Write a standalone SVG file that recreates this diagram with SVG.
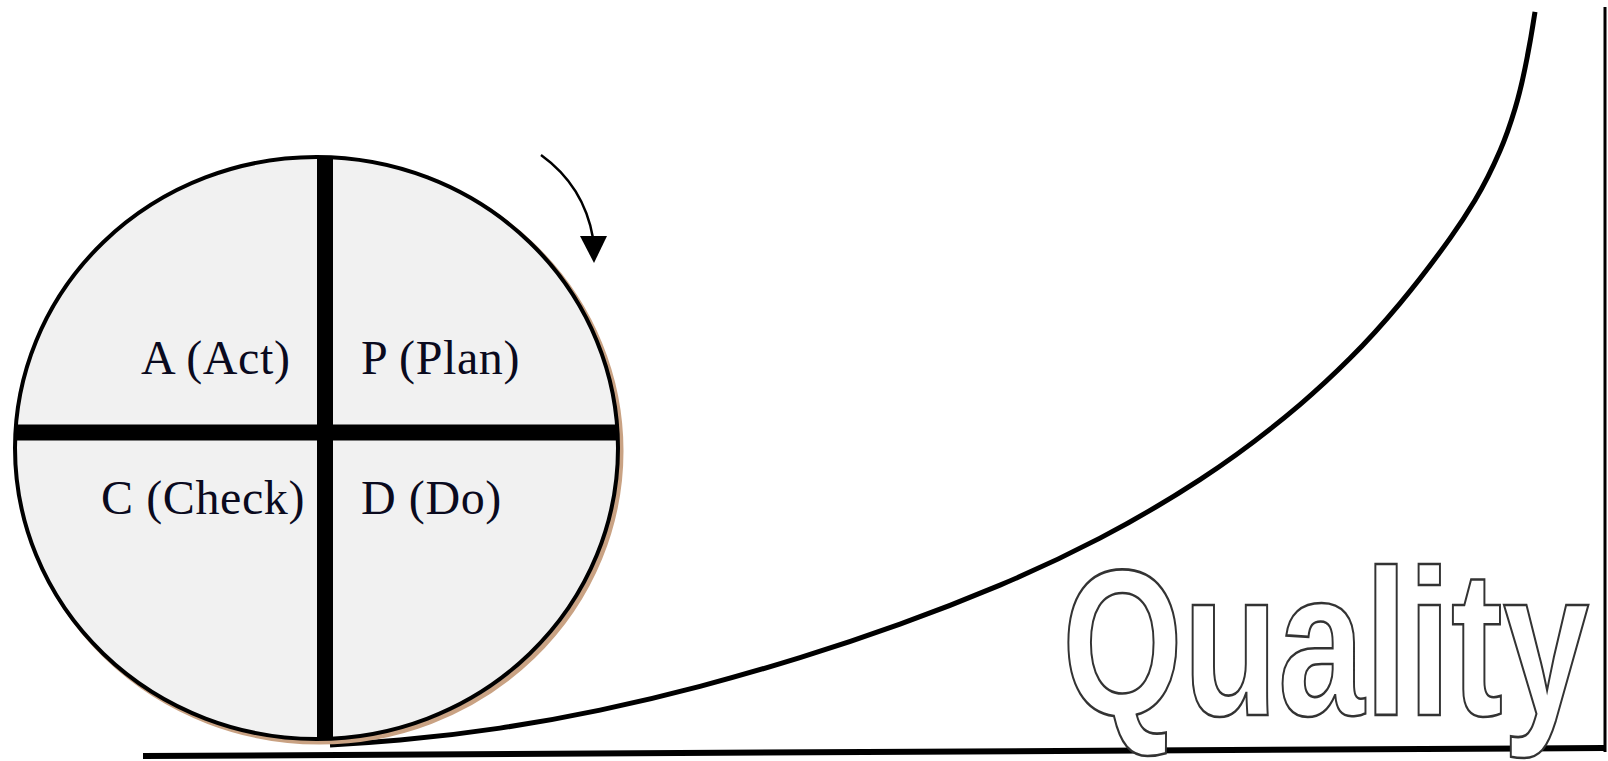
<svg xmlns="http://www.w3.org/2000/svg" width="1608" height="761" viewBox="0 0 1608 761">
<style>
.lbl{font-family:"Liberation Serif","Times New Roman",serif;font-size:48px;letter-spacing:0.6px;fill:#0a0a1e}
.div{stroke:#000;stroke-width:16;fill:none}
.q{font-family:"Liberation Sans",Arial,sans-serif;font-weight:bold;font-size:208px;fill:#fff;stroke:#333;stroke-width:2.6px}
</style>
<rect width="1608" height="761" fill="#fff"/>
<g id="axes">
<line x1="143" y1="756" x2="1604" y2="748" stroke="#000" stroke-width="6"/>
<line x1="1605" y1="7" x2="1605" y2="752" stroke="#000" stroke-width="3"/>
</g>
<g id="quality-label">
<text class="q" transform="translate(1062,715) scale(0.748,1)" x="0" y="0">Quality</text>
</g>
<g id="connectors">
<path id="quality-curve" d="M330,745 C353.3,743.8 376.7,742.2 400,740.1 C433.3,737.1 466.7,733.1 500,728.1 C533.3,723.1 566.7,717.1 600,710.1 C633.3,703.1 666.7,695.2 700,686.35 C733.3,677.5 766.7,667.9 800,657.6 C833.3,647.3 866.7,636.1 900,624.1 C933.3,612.1 966.7,599.1 1000,585.1 C1033.3,571.1 1066.7,555.4 1100,538.1 C1133.3,520.8 1166.7,501.3 1200,479.6 C1233.3,457.9 1266.7,432.9 1300,404.6 C1316.7,390.4 1333.3,375 1350,358.35 C1366.7,341.7 1383.3,323.35 1400,303.35 C1416.7,283.35 1433.3,261.7 1450,238.35 C1458.3,226.7 1466.7,214 1475,200.2 C1483.3,186.5 1491.7,170 1500,150.8 C1505,139.3 1510,125.3 1515,108.8 C1518.3,97.8 1521.7,84.3 1525,68.3 C1528.3,52.3 1531.7,33.5 1535,11.8" fill="none" stroke="#000" stroke-width="5"/>
<path id="rotation-arrow" d="M541,155 Q584,186 593,238" fill="none" stroke="#000" stroke-width="2.5"/>
<polygon points="580,236 607,236 594,263" fill="#000"/>
</g>
<g id="pdca-wheel">
<ellipse cx="319.5" cy="451" rx="301.5" ry="291" fill="none" stroke="#c9a283" stroke-width="5"/>
<ellipse cx="316.5" cy="448" rx="301.5" ry="291" fill="#f1f1f1" stroke="#000" stroke-width="4"/>
<line class="div" x1="325" y1="157" x2="325" y2="740"/>
<line class="div" x1="14" y1="432.5" x2="619" y2="432.5"/>
</g>
<g id="node-act"><text class="lbl" x="141" y="374">A (Act)</text></g>
<g id="node-plan"><text class="lbl" x="361" y="374">P (Plan)</text></g>
<g id="node-check"><text class="lbl" x="101" y="514">C (Check)</text></g>
<g id="node-do"><text class="lbl" x="361" y="514">D (Do)</text></g>
</svg>
